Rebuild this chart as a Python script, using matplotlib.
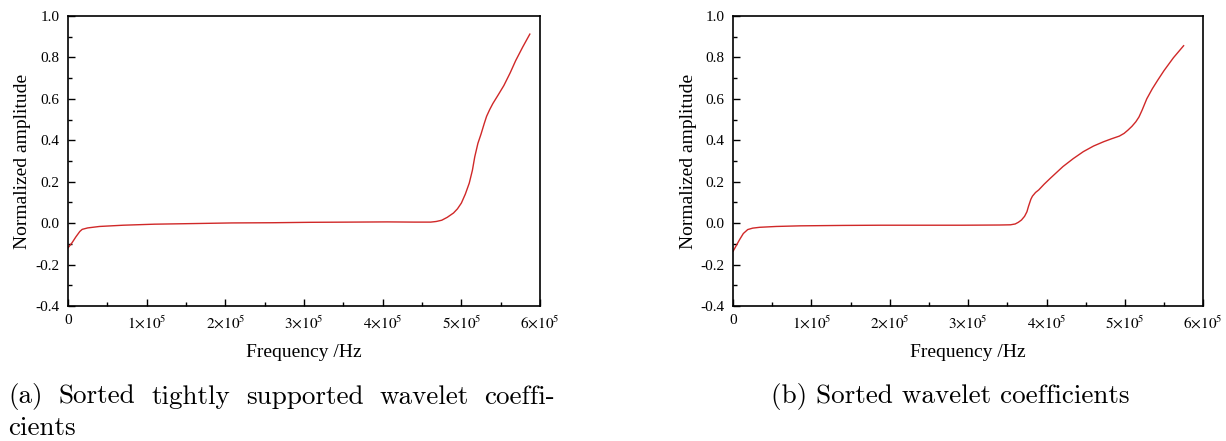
import matplotlib.pyplot as plt
from matplotlib.ticker import MultipleLocator, FixedLocator, FixedFormatter

plt.rcParams['font.family'] = ['Liberation Serif', 'DejaVu Serif']
plt.rcParams['mathtext.fontset'] = 'stix'
plt.rcParams['axes.unicode_minus'] = False

# (a) sorted tightly supported wavelet coefficients
freq_a = [0, 5e3, 10e3, 15e3, 18e3, 25e3, 40e3, 70e3, 110e3, 160e3, 208e3, 260e3,
          307e3, 360e3, 406e3, 440e3, 461e3, 468e3, 475e3, 482e3, 490e3, 495e3,
          500e3, 505e3, 510e3, 514e3, 517e3, 521e3, 525e3, 529e3, 532e3, 536e3,
          540e3, 547e3, 554e3, 562e3, 569e3, 578e3, 587e3]
amp_a = [-0.119, -0.095, -0.066, -0.040, -0.030, -0.023, -0.016, -0.010, -0.005,
         -0.002, 0.001, 0.002, 0.004, 0.005, 0.006, 0.005, 0.005, 0.008, 0.014,
         0.028, 0.049, 0.069, 0.097, 0.140, 0.193, 0.255, 0.320, 0.385, 0.430,
         0.480, 0.515, 0.548, 0.577, 0.620, 0.664, 0.725, 0.784, 0.850, 0.912]

# (b) sorted wavelet coefficients
freq_b = [0, 4e3, 8.3e3, 13e3, 18.6e3, 25e3, 34e3, 55e3, 85.6e3, 140e3, 189e3,
          240e3, 292e3, 340e3, 354e3, 360e3, 364e3, 368e3, 372e3, 375e3, 377e3,
          380e3, 382e3, 386e3, 390e3, 397e3, 405e3, 421e3, 434e3, 447e3, 460e3,
          473e3, 483e3, 493e3, 499e3, 504e3, 509e3, 514e3, 518e3, 522e3, 528e3,
          535e3, 542e3, 550e3, 562e3, 575e3]
amp_b = [-0.135, -0.108, -0.079, -0.050, -0.031, -0.024, -0.020, -0.016, -0.013,
         -0.011, -0.010, -0.010, -0.010, -0.009, -0.008, -0.004, 0.004, 0.015,
         0.033, 0.055, 0.081, 0.115, 0.130, 0.148, 0.160, 0.188, 0.217, 0.273,
         0.311, 0.345, 0.372, 0.393, 0.407, 0.420, 0.433, 0.449, 0.467, 0.489,
         0.512, 0.545, 0.600, 0.648, 0.690, 0.736, 0.798, 0.856]

x_ticks = [0, 1e5, 2e5, 3e5, 4e5, 5e5, 6e5]
x_labels = ['0', r'$1{\times}10^5$', r'$2{\times}10^5$', r'$3{\times}10^5$',
            r'$4{\times}10^5$', r'$5{\times}10^5$', r'$6{\times}10^5$']
y_ticks = [-0.4, -0.2, 0.0, 0.2, 0.4, 0.6, 0.8, 1.0]
y_labels = ['-0.4', '-0.2', '0.0', '0.2', '0.4', '0.6', '0.8', '1.0']

caption_a = ['(a)', 'Sorted', 'tightly', 'supported', 'wavelet', 'coeffi-']


def style_axes(ax):
    ax.set_xlim(0, 6e5)
    ax.set_ylim(-0.4, 1.0)
    ax.xaxis.set_major_locator(FixedLocator(x_ticks))
    ax.xaxis.set_major_formatter(FixedFormatter(x_labels))
    ax.yaxis.set_major_locator(FixedLocator(y_ticks))
    ax.yaxis.set_major_formatter(FixedFormatter(y_labels))
    ax.xaxis.set_minor_locator(MultipleLocator(5e4))
    ax.yaxis.set_minor_locator(MultipleLocator(0.1))
    ax.tick_params(which='both', direction='in', top=False, right=False,
                   labelsize=11, width=1.0)
    ax.tick_params(which='major', length=5, pad=6)
    ax.tick_params(which='minor', length=3)
    for s in ax.spines.values():
        s.set_linewidth(1.2)
    ax.set_xlabel('Frequency /Hz', fontsize=14, labelpad=9)
    ax.set_ylabel('Normalized amplitude', fontsize=14, labelpad=3)


fig = plt.figure(figsize=(12.26, 4.41), dpi=100)
ax1 = fig.add_axes([0.0555, 0.306, 0.385, 0.658])
ax2 = fig.add_axes([0.598, 0.306, 0.3834, 0.658])

ax1.plot(freq_a, amp_a, color='#d02828', lw=1.0)
ax2.plot(freq_b, amp_b, color='#d02828', lw=1.0)
style_axes(ax1)
style_axes(ax2)

# justified first line of caption (a)
fig.canvas.draw()
renderer = fig.canvas.get_renderer()
left_px, right_px = 8, 555
words = [fig.text(0, 0.1, w, family='cmr10', fontsize=19.5, va='center')
         for w in caption_a]
widths = [t.get_window_extent(renderer).width for t in words]
gap = (right_px - left_px - sum(widths)) / (len(words) - 1)
xpos = left_px
for t, w in zip(words, widths):
    t.set_x(xpos / fig.bbox.width)
    xpos += w + gap
fig.text(left_px / 1226, 0.03, 'cients', family='cmr10', fontsize=19.5,
         ha='left', va='center')
fig.text(0.775, 0.1, '(b) Sorted wavelet coefficients', family='cmr10',
         fontsize=19.5, ha='center', va='center')

fig.savefig('out.png', dpi=100)
